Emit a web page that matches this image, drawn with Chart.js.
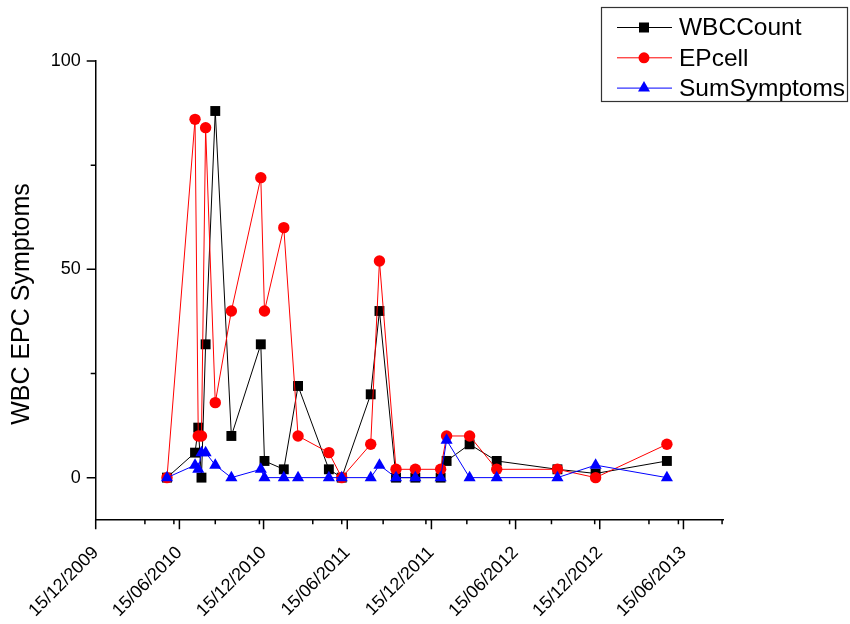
<!DOCTYPE html>
<html>
<head>
<meta charset="utf-8">
<script src="https://cdn.jsdelivr.net/npm/chart.js@4.4.1/dist/chart.umd.min.js"></script>
<style>
  html, body { margin: 0; padding: 0; background: #fff; }
  #wrap { width: 850px; height: 624px; }
</style>
</head>
<body>
<div id="wrap"><canvas id="chart" width="850" height="624"></canvas></div>
<script>
// ----------------- Data -----------------
const sampleDates = [
  "2010-05-19", "2010-07-19", "2010-07-26", "2010-08-02", "2010-08-11", "2010-09-01",
  "2010-10-06", "2010-12-09", "2010-12-17", "2011-01-28", "2011-02-28", "2011-05-06",
  "2011-06-03", "2011-08-05", "2011-08-24", "2011-09-29", "2011-11-10", "2012-01-04",
  "2012-01-17", "2012-03-07", "2012-05-05", "2012-09-14", "2012-12-06", "2013-05-10"
];
const wbcCount    = [0, 6, 12, 0, 32, 88, 10, 32, 4, 2, 22, 2, 0, 20, 40, 0, 0, 0, 4, 8, 4, 2, 1, 4];
const epCell      = [0, 86, 10, 10, 84, 18, 40, 72, 40, 60, 10, 6, 0, 8, 52, 2, 2, 2, 10, 10, 2, 2, 0, 8];
const sumSymptoms = [0, 3, 2, 6, 6, 3, 0, 2, 0, 0, 0, 0, 0, 0, 3, 0, 0, 0, 9, 0, 0, 0, 3, 0];

const xTickDates = ["2009-12-15", "2010-06-15", "2010-12-15", "2011-06-15",
                    "2011-12-15", "2012-06-15", "2012-12-15", "2013-06-15"];
const xMinorDates = ["2010-04-01", "2010-06-03", "2010-09-01", "2010-12-06", "2011-04-01",
                     "2011-06-03", "2011-09-01", "2011-12-03", "2012-03-01", "2012-06-02",
                     "2012-09-01", "2012-12-04", "2013-04-01", "2013-06-04", "2013-09-07"];
const xRange = ["2009-12-15", "2013-09-09"];
const yTicks = [0, 50, 100];
const yMinorTicks = [25, 75];
const yRange = [-10, 100];
const yTitle = "WBC EPC Symptoms";

const seriesNames = ["WBCCount", "EPcell", "SumSymptoms"];
const seriesColors = ["#000000", "#ff0000", "#0000ff"];

// ----------------- Helpers -----------------
const FONT = "'Liberation Sans', Arial, sans-serif";

function toDay(s) {
  const [y, m, d] = s.split("-").map(Number);
  return Date.UTC(y, m - 1, d) / 86400000;
}

function fmtDay(v) {
  const d = new Date(Math.round(v) * 86400000);
  const dd = String(d.getUTCDate()).padStart(2, "0");
  const mm = String(d.getUTCMonth() + 1).padStart(2, "0");
  return `${dd}/${mm}/${d.getUTCFullYear()}`;
}

function points(values) {
  return sampleDates.map((d, i) => ({ x: toDay(d), y: values[i] }));
}

// ----------------- Plugins -----------------
// tick marks (major + minor) and the rotated y title
const axisTicks = {
  id: "axisTicks",
  afterDraw(chart) {
    const ctx = chart.ctx;
    const x = chart.scales.x, y = chart.scales.y;
    const area = chart.chartArea;
    ctx.save();
    ctx.strokeStyle = "#000";
    ctx.lineWidth = 1.5;
    ctx.beginPath();
    yTicks.forEach(v => {
      const py = y.getPixelForValue(v);
      ctx.moveTo(area.left - 9, py); ctx.lineTo(area.left, py);
    });
    yMinorTicks.forEach(v => {
      const py = y.getPixelForValue(v);
      ctx.moveTo(area.left - 5, py); ctx.lineTo(area.left, py);
    });
    xTickDates.forEach(d => {
      const px = x.getPixelForValue(toDay(d));
      ctx.moveTo(px, area.bottom); ctx.lineTo(px, area.bottom + 10);
    });
    xMinorDates.forEach(d => {
      const px = x.getPixelForValue(toDay(d));
      ctx.moveTo(px, area.bottom); ctx.lineTo(px, area.bottom + 5);
    });
    ctx.stroke();

    ctx.translate(22, 304);
    ctx.rotate(-Math.PI / 2);
    ctx.fillStyle = "#000";
    ctx.font = `25px ${FONT}`;
    ctx.textAlign = "center";
    ctx.textBaseline = "middle";
    ctx.fillText(yTitle, 0, 0);
    ctx.restore();
  }
};

const boxLegend = {
  id: "boxLegend",
  afterDraw(chart) {
    const ctx = chart.ctx;
    ctx.save();
    ctx.strokeStyle = "#333";
    ctx.lineWidth = 1.2;
    ctx.strokeRect(601.5, 7.5, 246, 94);
    ctx.font = `24.5px ${FONT}`;
    ctx.textBaseline = "middle";
    ctx.textAlign = "left";
    seriesNames.forEach((name, i) => {
      const cy = 27.5 + i * 30.3;
      const col = seriesColors[i];
      ctx.strokeStyle = col;
      ctx.lineWidth = 1;
      ctx.beginPath();
      ctx.moveTo(617, cy); ctx.lineTo(672, cy);
      ctx.stroke();
      ctx.fillStyle = col;
      ctx.beginPath();
      if (i === 0) {
        ctx.rect(639, cy - 5, 10, 10);
      } else if (i === 1) {
        ctx.arc(644, cy, 5.5, 0, Math.PI * 2);
      } else {
        ctx.moveTo(644, cy - 7);
        ctx.lineTo(650, cy + 3.5);
        ctx.lineTo(638, cy + 3.5);
        ctx.closePath();
      }
      ctx.fill();
      ctx.fillStyle = "#000";
      ctx.fillText(name, 679, cy + 1);
    });
    ctx.restore();
  }
};

// ----------------- Chart -----------------
const styles = [
  { pointStyle: "rect", pointRadius: 7, order: 2 },
  { pointStyle: "circle", pointRadius: 5.7, order: 1 },
  { pointStyle: "triangle", pointRadius: 7, order: 0 }
];

new Chart(document.getElementById("chart"), {
  type: "line",
  data: {
    datasets: [wbcCount, epCell, sumSymptoms].map((vals, i) => ({
      label: seriesNames[i],
      data: points(vals),
      borderColor: seriesColors[i],
      backgroundColor: seriesColors[i],
      pointBackgroundColor: seriesColors[i],
      pointBorderWidth: 0,
      borderWidth: 1,
      tension: 0,
      clip: false,
      ...styles[i]
    }))
  },
  options: {
    responsive: false,
    animation: false,
    devicePixelRatio: 1,
    layout: { padding: { top: 61, right: 127, left: 0, bottom: 0 } },
    plugins: { legend: { display: false }, tooltip: { enabled: false } },
    scales: {
      x: {
        type: "linear",
        min: toDay(xRange[0]),
        max: toDay(xRange[1]),
        afterBuildTicks: s => { s.ticks = xTickDates.map(d => ({ value: toDay(d) })); },
        afterFit: s => { s.height = 104.7; },
        grid: { display: false, drawTicks: false },
        border: { display: true, color: "#000", width: 1.5 },
        ticks: {
          autoSkip: false,
          maxRotation: 45,
          minRotation: 45,
          padding: 23,
          color: "#000",
          font: { family: FONT, size: 18 },
          callback: v => fmtDay(v)
        }
      },
      y: {
        min: yRange[0],
        max: yRange[1],
        afterBuildTicks: s => { s.ticks = yTicks.map(v => ({ value: v })); },
        afterFit: s => { s.width = 95.7; },
        grid: { display: false, drawTicks: false },
        border: { display: true, color: "#000", width: 1.5 },
        ticks: {
          padding: 15,
          color: "#000",
          font: { family: FONT, size: 18 },
          callback: v => String(v)
        }
      }
    }
  },
  plugins: [axisTicks, boxLegend]
});
</script>
</body>
</html>
